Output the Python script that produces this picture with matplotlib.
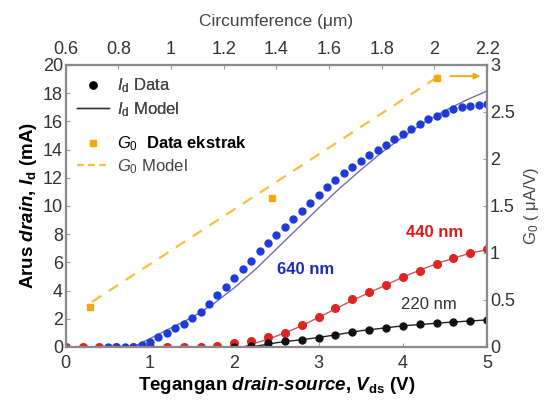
import numpy as np
import matplotlib.pyplot as plt
from matplotlib.lines import Line2D

plt.rcParams['font.family'] = ['Liberation Sans', 'DejaVu Sans']
plt.rcParams['mathtext.fontset'] = 'custom'
plt.rcParams['mathtext.rm'] = 'Liberation Sans'
plt.rcParams['mathtext.it'] = 'Liberation Sans:italic'
plt.rcParams['mathtext.bf'] = 'Liberation Sans:bold'
plt.rcParams['mathtext.bfit'] = 'Liberation Sans:bold:italic'

# --- I_d data (mA) vs V_ds (V)
v_640 = np.round(np.arange(0.5, 5.01, 0.1), 1)
i_640 = [0, 0, 0, 0, 0.12, 0.38, 0.69, 1.02, 1.32, 1.63, 2.03, 2.48, 3.05, 3.65, 4.28,
         4.87, 5.5, 6.12, 6.8, 7.4, 7.94, 8.49, 9.08, 9.67, 10.23, 10.78, 11.33, 11.85,
         12.3, 12.79, 13.22, 13.58, 13.95, 14.33, 14.73, 15.1, 15.48, 15.78, 16.15, 16.4,
         16.6, 16.88, 17.0, 17.05, 17.16, 17.25]

v_440 = np.round(np.arange(0, 5.01, 0.2), 1)
i_440 = [0, 0, 0, 0, 0, 0, 0, 0, 0, 0.1, 0.25, 0.4, 0.7, 1.0, 1.55, 2.12, 2.74, 3.38,
         3.88, 4.4, 4.99, 5.41, 5.89, 6.29, 6.69, 6.93]

v_220 = np.round(np.arange(2.0, 5.01, 0.2), 1)
i_220 = [0, 0.1, 0.25, 0.4, 0.5, 0.67, 0.88, 1.07, 1.22, 1.38, 1.51, 1.62, 1.68, 1.75,
         1.84, 1.91]

# --- I_d model curves
vm_640 = [0, 0.8, 1.0, 1.2, 1.5, 1.75, 2.0, 2.25, 2.5, 2.75, 3.0, 3.25, 3.5, 3.75,
          4.0, 4.25, 4.5, 4.75, 5.0]
im_640 = [0, 0, 0.6, 1.2, 2.1, 3.05, 4.2, 5.5, 6.95, 8.4, 9.85, 11.25, 12.55, 13.8,
          14.9, 15.9, 16.75, 17.5, 18.15]
vm_440 = [0, 2.1, 2.4, 2.6, 2.8, 3.0, 3.2, 3.4, 3.6, 3.8, 4.0, 4.2, 4.4, 4.6, 4.8, 5.0]
im_440 = [0, 0, 0.55, 1.0, 1.5, 2.1, 2.7, 3.3, 3.85, 4.4, 4.95, 5.45, 5.9, 6.3, 6.65, 6.9]
vm_220 = [0, 2.2, 2.5, 3.0, 3.5, 4.0, 4.5, 5.0]
im_220 = [0, 0, 0.3, 0.67, 1.15, 1.5, 1.73, 1.92]

# --- G0 (uA/V) vs circumference (um)
circ_g0 = [0.691, 1.382, 2.011]
g0_data = [0.43, 1.585, 2.86]
circ_model = [0.70, 2.0]
g0_model = [0.48, 2.85]

gray = '#444444'
orange = '#f0a80c'

fig = plt.figure(figsize=(5.48, 4.03), dpi=100)
ax = fig.add_axes([0.120, 0.139, 0.769, 0.700])

ax.plot(vm_220, im_220, color='#222222', lw=1.0, zorder=2)
ax.plot(vm_440, im_440, color='#d05a5a', lw=1.0, zorder=2)
ax.plot(vm_640, im_640, color='#6f6fb0', lw=1.0, zorder=2)
ax.plot(v_220, i_220, 'o', color='#111111', ms=5, zorder=4)
ax.plot(v_440, i_440, 'o', color='#e02424', ms=5.5, zorder=3)
ax.plot(v_640, i_640, 'o', color='#1f3ad8', ms=5, zorder=3.5)

ax.set_xlim(0, 5)
ax.set_ylim(0, 20)
ax.set_xticks(range(6))
ax.set_yticks(range(0, 21, 2))
ax.set_xlabel(r'Tegangan $\mathbfit{drain}$-$\mathbfit{source}$, $\mathbfit{V}_{\mathbf{ds}}$ (V)',
              fontsize=13.5, fontweight='bold', labelpad=2)
ax.set_ylabel(r'Arus $\mathbfit{drain}$, $\mathbfit{I}_{\mathbf{d}}$ (mA)',
              fontsize=13.5, fontweight='bold', labelpad=3)

ax.text(2.51, 5.5, '640 nm', color='#1a2bc0', fontsize=12, fontweight='bold', va='center')
ax.text(4.04, 8.1, '440 nm', color='#e01818', fontsize=12, fontweight='bold', va='center')
ax.text(3.98, 3.0, '220 nm', color='#333333', fontsize=12, va='center')

ax2 = ax.twinx()
ax2.set_ylim(0, 3)
ax2.set_yticks([0, 0.5, 1, 1.5, 2, 2.5, 3])
ax2.set_yticklabels(['0', '0.5', '1', '1.5', '2', '2.5', '3'])
ax2.set_ylabel(r'G$_0$ ( μA/V)', color=gray, fontsize=12, labelpad=5)

ax3 = ax2.twiny()
ax3.set_xlim(0.6, 2.2)
ax3.set_xticks([0.6, 0.8, 1, 1.2, 1.4, 1.6, 1.8, 2, 2.2])
ax3.set_xticklabels(['0.6', '0.8', '1', '1.2', '1.4', '1.6', '1.8', '2', '2.2'])
ax3.set_xlabel('Circumference (μm)', color=gray, fontsize=12.5, labelpad=11)
ax3.plot(circ_model, g0_model, '--', color='#f5c040', lw=1.6, dashes=(5, 4))
ax3.plot(circ_g0, g0_data, 's', color=orange, ms=5)
ax3.annotate('', xy=(2.185, 2.88), xytext=(2.05, 2.88),
             arrowprops=dict(arrowstyle='-|>', color=orange, lw=1.3, mutation_scale=9))

for a in (ax, ax2, ax3):
    for s in a.spines.values():
        s.set_color('#8a8a8a')
        s.set_linewidth(1.5)
    a.tick_params(direction='in', length=3, color='#999999', labelsize=13,
                  labelcolor='#333333', pad=2)
ax.tick_params(axis='x', pad=6)
ax3.tick_params(axis='x', pad=5)

h1 = [Line2D([], [], marker='o', ls='none', color='black', ms=5),
      Line2D([], [], color='#333333', lw=1.0)]
leg1 = ax.legend(h1, [r'$I_\mathrm{d}$ Data', r'$I_\mathrm{d}$ Model'], loc='upper left',
                 bbox_to_anchor=(0.0, 1.0), frameon=False, fontsize=12, handlelength=1.9,
                 labelspacing=0.3, handletextpad=0.5, borderaxespad=0.3)
for t in leg1.get_texts():
    t.set_color(gray)
ax.add_artist(leg1)

h2 = [Line2D([], [], marker='s', ls='none', color=orange, ms=5),
      Line2D([], [], color='#f5c040', ls='--', lw=1.6, dashes=(3, 2))]
leg2 = ax3.legend(h2, [r'$G_0$  $\mathbf{Data\ ekstrak}$', r'$G_0$ Model'], loc='upper left',
                  bbox_to_anchor=(0.0, 0.795), frameon=False, fontsize=12, handlelength=1.9,
                  labelspacing=0.25, handletextpad=0.5, borderaxespad=0.3)
leg2.get_texts()[0].set_color('black')
leg2.get_texts()[1].set_color(gray)

fig.savefig('out.png', dpi=100)
